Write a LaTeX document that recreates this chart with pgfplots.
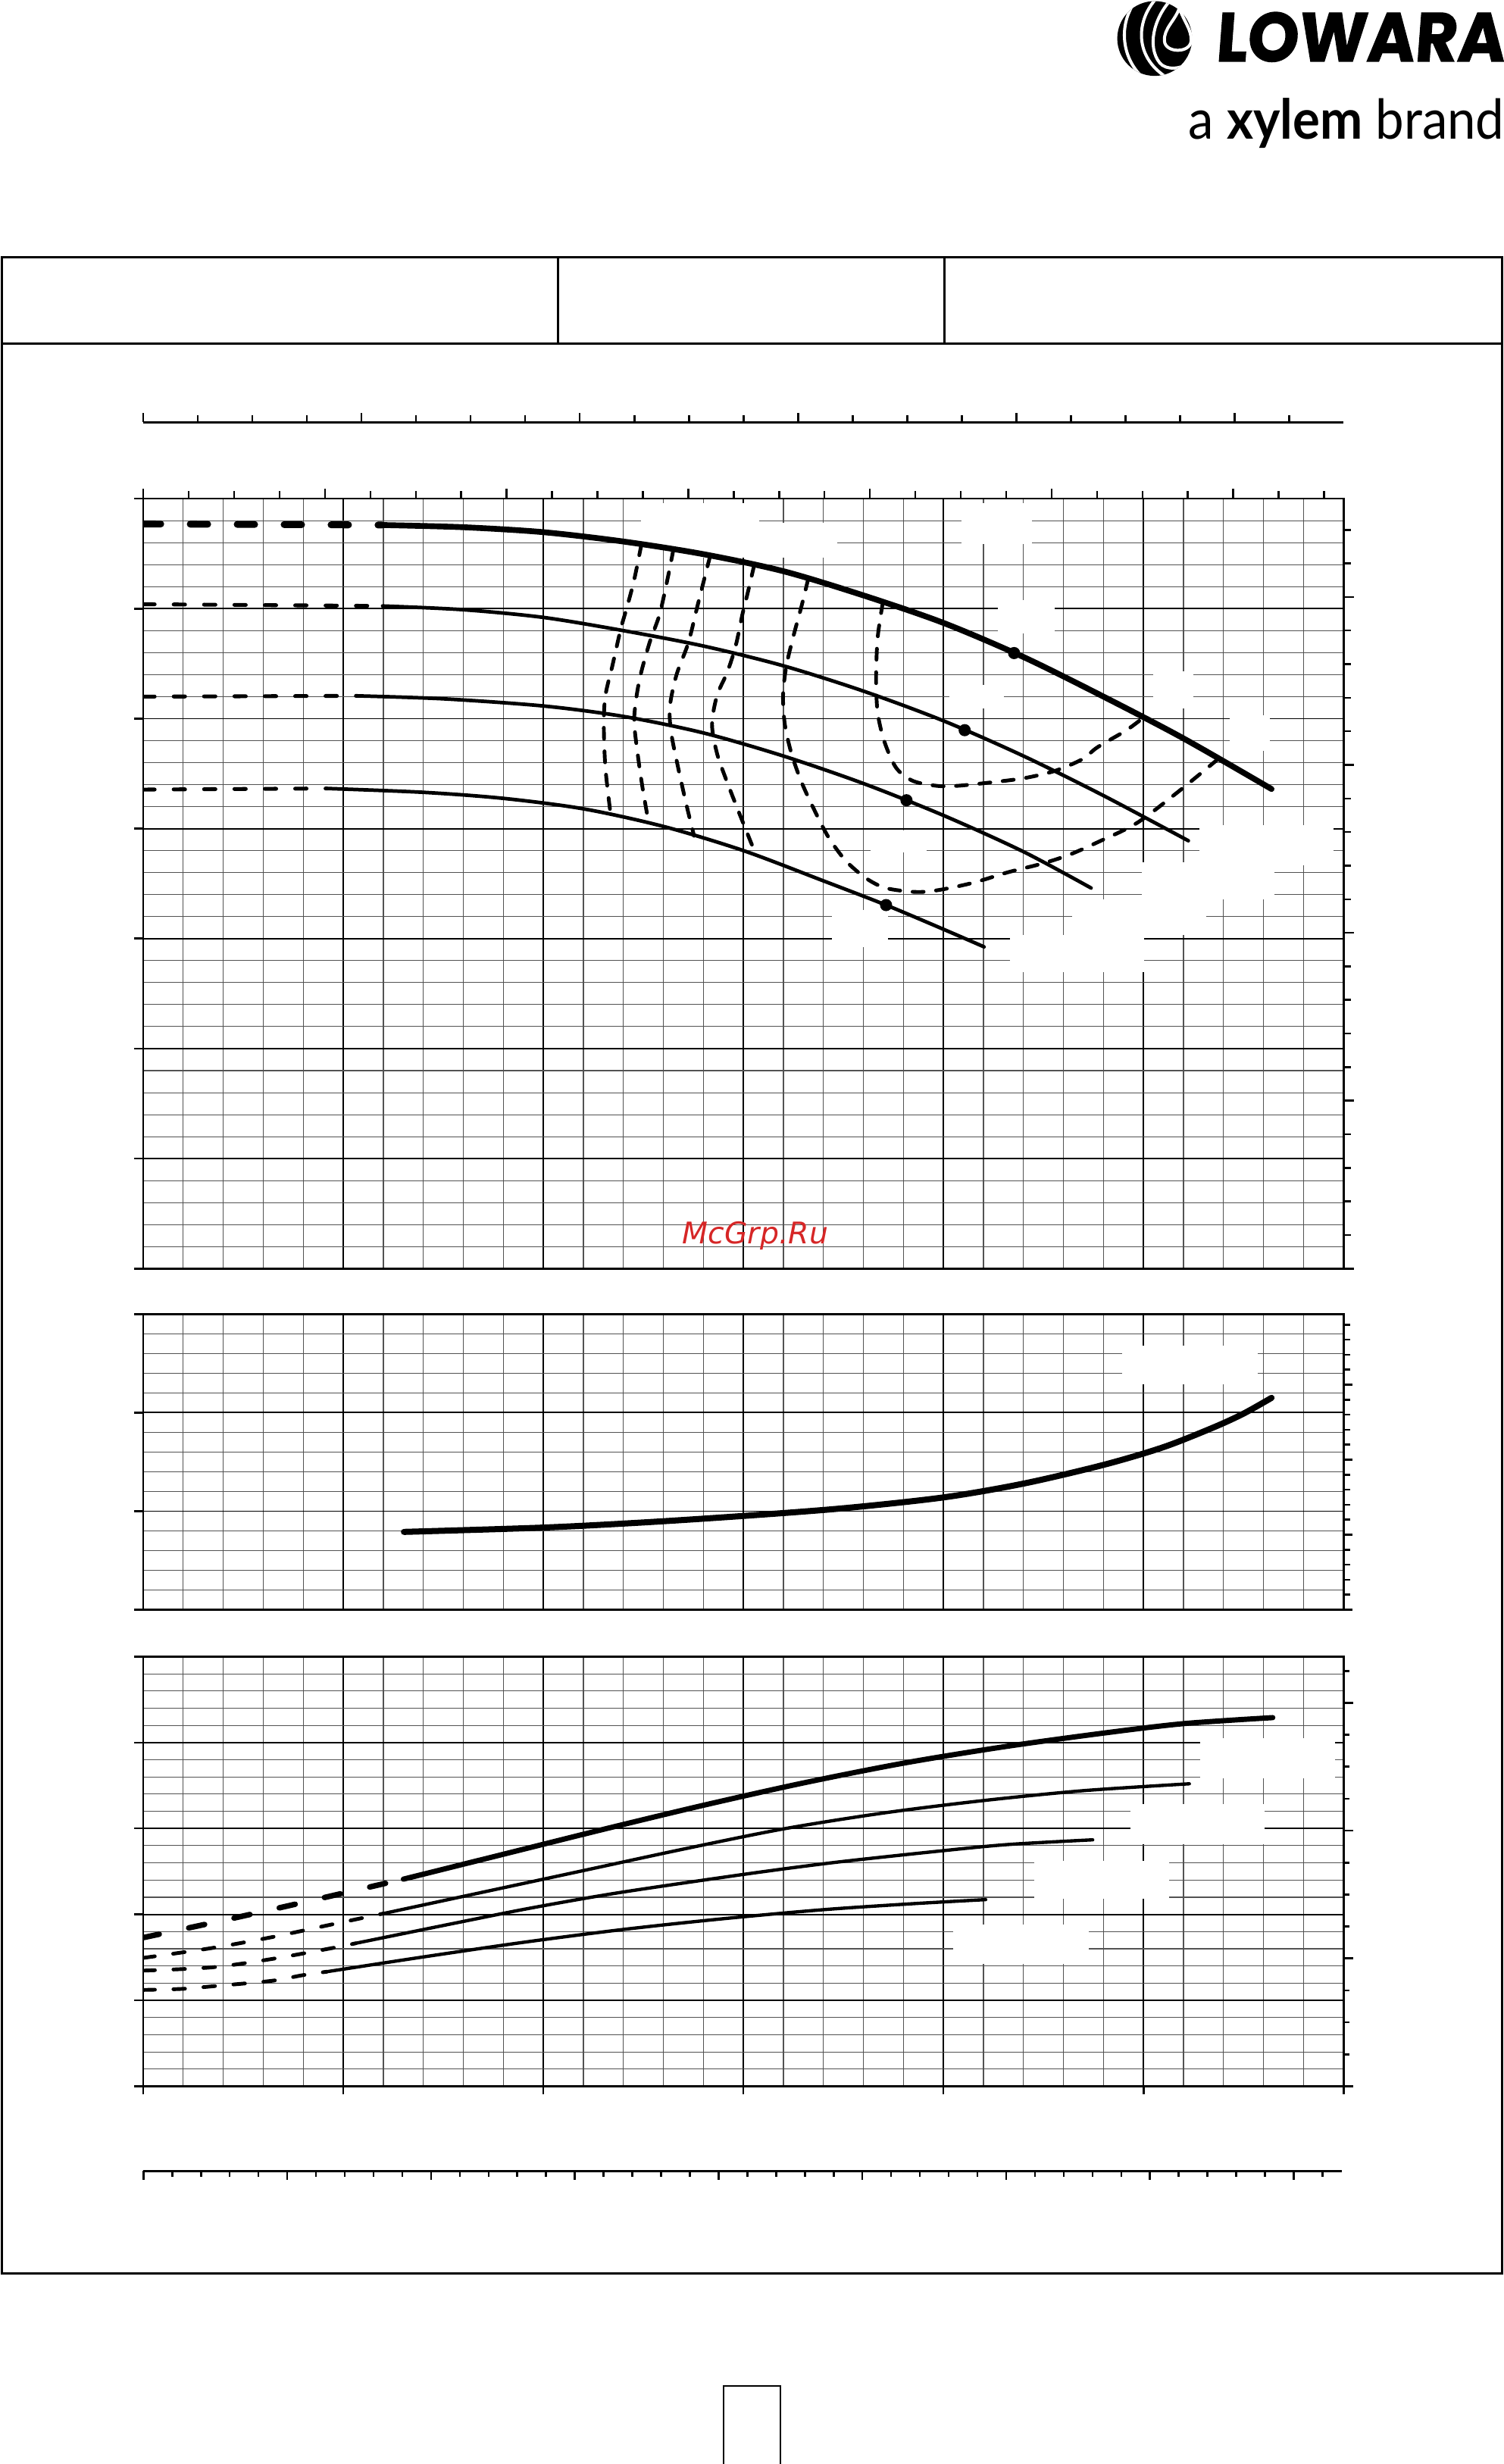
\documentclass[border=0pt]{standalone}
\usepackage{fontspec}
\usepackage{pgfplots}
\pgfplotsset{compat=1.18}
\newfontfamily\logofont{Poppins}[FakeSlant=0.08, BoldFeatures={FakeBold=1.5}]
\newfontfamily\brandfont{Lato}
\newfontfamily\wmfont{DejaVu Sans}
\definecolor{wmred}{RGB}{214,38,38}
\begin{document}
\begin{tikzpicture}
\useasboundingbox (0,0) rectangle (191.4mm,-313.6mm);
\pgfplotsset{
  pumpgrid/.style={
    scale only axis, width=152.76mm, anchor=south west,
    xmin=0, xmax=60, xtick={0,10,...,60}, minor x tick num=4,
    minor y tick num=4,
    grid=both,
    major grid style={line width=0.5pt, black},
    minor grid style={line width=0.3pt, black!68},
    axis line style={line width=0.7pt},
    major tick length=0pt, minor tick length=0pt,
    xticklabels={}, yticklabels={},
    enlargelimits=false,
  },
  hthick/.style={black, line width=2.1pt, line cap=round, smooth},
  hthickdash/.style={black, line width=2.5pt, line cap=round, dash pattern=on 6.3pt off 10.7pt},
  hthin/.style={black, line width=1.3pt, line cap=round, smooth},
  hthindash/.style={black, line width=1.4pt, line cap=round, dash pattern=on 4.1pt off 6.9pt},
  eff/.style={black, line width=1.35pt, line cap=round, dash pattern=on 4.0pt off 4.5pt, smooth},
  pthick/.style={black, line width=1.9pt, line cap=round, smooth},
  pthickdash/.style={black, line width=2.0pt, line cap=round, dash pattern=on 5.9pt off 10.9pt, smooth},
  pthin/.style={black, line width=1.2pt, line cap=round, smooth},
  pthindash/.style={black, line width=1.35pt, line cap=round, dash pattern=on 4.2pt off 6.7pt, smooth},
}

% ---------------- main chart (head) ----------------
\begin{axis}[pumpgrid, at={(18.24mm,-161.46mm)}, height=98mm,
  ymin=0, ymax=70, ytick={0,10,...,70}]
  % erased label areas
  \fill[white] (axis cs:40.91,65.86) rectangle (axis cs:44.41,69.6);
  \fill[white] (axis cs:42.73,57.76) rectangle (axis cs:45.56,60.79);
  \fill[white] (axis cs:50.47,50.94) rectangle (axis cs:52.49,54.31);
  \fill[white] (axis cs:40.28,50.9) rectangle (axis cs:43.03,53.04);
  \fill[white] (axis cs:54.30,47.10) rectangle (axis cs:56.32,50.33);
  \fill[white] (axis cs:52.81,36.64) rectangle (axis cs:59.51,40.33);
  \fill[white] (axis cs:49.91,33.57) rectangle (axis cs:56.54,36.94);
  \fill[white] (axis cs:46.43,30.33) rectangle (axis cs:53.13,33.56);
  \fill[white] (axis cs:43.34,26.96) rectangle (axis cs:50.03,30.33);
  \fill[white] (axis cs:24.88,65.81) rectangle (axis cs:30.79,69.6);
  \fill[white] (axis cs:26.82,64.61) rectangle (axis cs:34.68,67.83);
  \fill[white] (axis cs:36.37,37.87) rectangle (axis cs:39.17,39.86);
  \fill[white] (axis cs:34.43,29.23) rectangle (axis cs:37.22,32.61);
  % head curves
  \addplot[hthickdash] coordinates {(0,67.7) (11.93,67.6)};
  \addplot[hthick] coordinates {(11.93,67.6) (16,67.4) (20,66.95) (24,66.1) (28,64.95) (32,63.4) (36,61.2) (40,58.7) (44,55.6) (48,52.0) (52,48.2) (56.4,43.6)};
  \addplot[hthindash] coordinates {(0,60.4) (11.96,60.24)};
  \addplot[hthin] coordinates {(11.96,60.24) (16,59.9) (20,59.2) (24,58.0) (28,56.6) (32,54.8) (36,52.5) (40,49.8) (44,46.6) (48,43.0) (52.24,38.9)};
  \addplot[hthindash] coordinates {(0,52.0) (10.69,52.07)};
  \addplot[hthin] coordinates {(10.69,52.07) (15,51.8) (20,51.15) (24,50.2) (28,48.7) (32,46.6) (36,44.1) (40,41.2) (44,37.9) (47.38,34.6)};
  \addplot[hthindash] coordinates {(0,43.55) (9.17,43.65)};
  \addplot[hthin] coordinates {(9.17,43.65) (14,43.3) (18,42.75) (22,41.8) (26,40.2) (30,38.0) (34,35.25) (37.13,33.05) (40,30.85) (42.03,29.25)};
  % efficiency curves
  \addplot[eff] coordinates {(24.9,65.84) (24.54,62.64) (24.20,60.27) (23.87,58.17) (23.44,54.74) (23.10,52.10) (23.02,49.47) (23.10,45.51) (23.35,41.45)};
  \addplot[eff] coordinates {(26.5,65.39) (26.23,62.91) (25.81,59.49) (25.30,56.86) (24.79,53.43) (24.54,50.00) (24.71,46.84) (24.96,43.67) (25.26,40.55)};
  \addplot[eff] coordinates {(28.34,64.82) (28.00,62.39) (27.67,60.01) (27.24,56.86) (26.65,53.96) (26.32,51.06) (26.39,48.69) (26.74,45.51) (27.16,42.09) (27.53,39.35)};
  \addplot[eff] coordinates {(30.54,63.97) (30.20,61.33) (29.95,59.49) (29.61,56.59) (29.19,54.21) (28.68,52.10) (28.43,49.47) (28.68,46.83) (29.19,44.20) (29.87,41.04) (30.63,37.6)};
  \addplot[eff] coordinates {(33.24,62.72) (32.91,60.27) (32.48,57.37) (32.14,54.74) (31.98,52.10) (32.07,49.47) (32.40,46.83) (32.91,44.20) (33.58,41.56) (34.26,39.19) (35.11,37.09) (36.12,35.50) (37.13,34.59) (38.66,34.24) (39.84,34.44) (41.53,35.10) (43.22,36.03) (44.91,36.81) (46.27,37.61) (47.75,38.80) (49.65,40.49) (51.67,43.26) (53.75,46.36)};
  \addplot[eff] coordinates {(36.97,60.59) (36.71,57.37) (36.63,53.69) (36.71,50.53) (37.05,47.89) (37.64,45.51) (38.48,44.33) (39.67,43.89) (40.68,43.89) (42.37,44.20) (44.07,44.60) (45.59,45.26) (46.94,46.31) (47.7,47.4) (49.14,48.94) (50.0,50.1)};
  % duty points
  \addplot[only marks, mark=*, mark size=2.0pt, black] coordinates {(43.53,55.96) (41.06,48.95) (38.15,42.58) (37.13,33.05)};
\end{axis}

% ---------------- middle chart (NPSH) ----------------
\begin{axis}[pumpgrid, at={(18.24mm,-204.88mm)}, height=37.64mm,
  ymin=0, ymax=15, ytick={0,5,10,15}]
  \fill[white] (axis cs:48.92,11.45) rectangle (axis cs:55.71,13.39);
  \addplot[black, line width=2.2pt, line cap=round, smooth] coordinates {(13.03,3.95) (20,4.17) (25,4.43) (30,4.76) (35,5.15) (40,5.70) (44,6.40) (48,7.35) (51,8.25) (53.5,9.25) (55,9.95) (56.4,10.75)};
\end{axis}

% ---------------- bottom chart (power) ----------------
\begin{axis}[pumpgrid, at={(18.24mm,-265.52mm)}, height=54.68mm,
  ymin=0, ymax=50, ytick={0,10,...,50}]
  \fill[white] (axis cs:52.83,35.81) rectangle (axis cs:59.56,40.48);
  \fill[white] (axis cs:49.33,28.17) rectangle (axis cs:56.07,32.83);
  \fill[white] (axis cs:44.54,21.81) rectangle (axis cs:51.26,26.27);
  \fill[white] (axis cs:40.49,14.26) rectangle (axis cs:47.25,18.85);
  \addplot[pthickdash] coordinates {(0,17.3) (4,19.3) (8,21.4) (13.0,24.1)};
  \addplot[pthick] coordinates {(13.0,24.1) (18,27.0) (23,29.9) (28,32.7) (33,35.3) (38,37.6) (43,39.5) (48,41.1) (52,42.2) (56.46,42.9)};
  \addplot[pthindash] coordinates {(0,14.94) (3.44,16.09) (6.42,17.35) (9.46,18.85) (12.0,20.1)};
  \addplot[pthin] coordinates {(12.0,20.1) (17,22.6) (22,25.1) (27,27.6) (32,29.95) (37,31.8) (42,33.25) (47,34.4) (52.29,35.2)};
  \addplot[pthindash] coordinates {(0,13.46) (3.44,13.84) (6.42,14.81) (9.46,16.09) (10.62,16.64)};
  \addplot[pthin] coordinates {(10.62,16.64) (15.91,19.14) (19.35,20.73) (23.70,22.50) (30.02,24.66) (34.57,26.05) (40.0,27.42) (43.27,28.14) (47.46,28.68)};
  \addplot[pthindash] coordinates {(0,11.21) (1.92,11.33) (3.44,11.63) (6.42,12.27) (7.93,12.91) (9.17,13.33)};
  \addplot[pthin] coordinates {(9.17,13.33) (14,15.05) (19,16.75) (24,18.25) (29,19.5) (34,20.55) (38.5,21.25) (42.11,21.72)};
\end{axis}

% ---------------- page furniture ----------------
\begin{scope}[x=0.2mm, y=-0.2mm]
  % frame and header
  \draw[line width=0.8pt] (1.2,163.5) rectangle (955.8,1446.8);
  \draw[line width=0.8pt] (1.2,218.6) -- (955.8,218.6);
  \draw[line width=0.8pt] (355.2,163.5) -- (355.2,218.6);
  \draw[line width=0.8pt] (601,163.5) -- (601,218.6);
  % page number box
  \draw[line width=0.6pt] (460.5,1518.5) rectangle (496.5,1580);

  \begin{scope}[line width=0.7pt]
  % top scale line
  \draw (91.2,268.8) -- (855,268.8);
  \foreach \j in {0,...,21}{
    \pgfmathsetmacro{\L}{mod(\j,4)==0 ? 6.2 : 4.6}
    \draw ({91.2+34.72*\j},268.8) -- ++(0,-\L);
  }
  % main chart: top edge ticks
  \foreach \k in {0,...,26}{
    \pgfmathsetmacro{\L}{mod(\k,4)==0 ? 6.5 : 4.8}
    \draw ({91.2+28.9*\k},317.3) -- ++(0,-\L);
  }
  % main chart: left ticks
  \foreach \k in {0,...,7}{ \draw (91.2,{317.3+70*\k}) -- ++(-6,0); }
  % main chart: right ticks
  \foreach \k in {0,...,22}{
    \pgfmathsetmacro{\L}{mod(\k,5)==0 ? 6.4 : 4.5}
    \draw (855,{807.3-21.37*\k}) -- ++(\L,0);
  }
  % middle chart ticks
  \foreach \k in {0,...,3}{ \draw (91.2,{836.2+62.73*\k}) -- ++(-6,0); }
  \foreach \k in {0,...,19}{
    \pgfmathsetmacro{\L}{mod(\k,5)==0 ? 5.9 : 4.2}
    \draw (855,{1024.4-9.55*\k}) -- ++(\L,0);
  }
  % bottom chart ticks
  \foreach \k in {0,...,5}{ \draw (91.2,{1054.2+54.68*\k}) -- ++(-6,0); }
  \foreach \k in {0,...,6}{ \draw ({91.2+127.3*\k},1327.6) -- ++(0,5.3); }
  \foreach \k in {0,...,13}{
    \pgfmathsetmacro{\L}{mod(\k,4)==0 ? 6.2 : 3.9}
    \draw (855,{1327.6-20.33*\k}) -- ++(\L,0);
  }
  % bottom scale line
  \draw (91.2,1381.6) -- (854,1381.6);
  \foreach \j in {0,...,41}{
    \pgfmathsetmacro{\L}{mod(\j,5)==0 ? 5.8 : 3.5}
    \draw ({91.3+18.3*\j},1381.6) -- ++(0,\L);
  }
  \end{scope}

  % logo emblem
  \fill[black] (734.8,24.5) circle[radius=23.8];
  \begin{scope}
    \clip (734.8,24.5) circle[radius=23.8];
    \draw[white, line width=1.1pt] (723,0) .. controls (711,16) and (714,38) .. (728,50);
    \draw[white, line width=1.1pt] (735,0) .. controls (723,14) and (722,36) .. (742,49);
    \draw[white, line width=1.1pt] (745,0) .. controls (734,12) and (730,30) .. (738,40) .. controls (742,45) and (752,44) .. (756,40);
  \end{scope}
  \draw[white, line width=1.1pt, fill=black] (750.5,5) .. controls (748,13) and (740.5,18) .. (741,26) .. controls (741.5,34) and (757.5,34) .. (758,26) .. controls (758.5,19) and (753,13) .. (750.5,5) -- cycle;
  \node[anchor=south west, inner sep=0] at (773,39.7) {\resizebox{36.8mm}{6.26mm}{\logofont\bfseries LOWARA}};
  \node[anchor=base west, inner sep=0] at (756,88.7) {\resizebox{40.2mm}{5.2mm}{\brandfont a {\bfseries xylem} brand}};

  % watermark
  \node[anchor=base west, inner sep=0, text=wmred, font=\wmfont\itshape\fontsize{10.8pt}{12pt}\selectfont] at (434,791.5) {McGrp.Ru};
\end{scope}
\end{tikzpicture}
\end{document}
